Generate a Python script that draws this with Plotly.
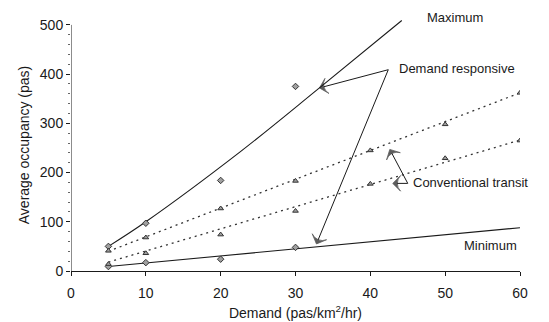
import plotly.graph_objects as go

# --- data ---
demand_dr = [5, 10, 20, 30]
dr_max_pts = [50, 97, 184, 375]
dr_min_pts = [9, 17, 24, 48]

demand_ct = [5, 10, 20, 30, 40, 50, 60]
ct_upper_pts = [41, 68, 127, 183, 245, 298, 362]
ct_lower_pts = [14, 36, 74, 122, 177, 229, 265]

# fitted curves drawn on the chart
max_fit_x = [5, 10, 22.6, 33.2, 44.2]
max_fit_y = [50, 100, 242, 372, 509]
min_fit_x = [5, 60]
min_fit_y = [9, 88]
ct_up_fit_x = [5, 60]
ct_up_fit_y = [40, 362]
ct_lo_fit_x = [5, 60]
ct_lo_fit_y = [18, 266]

# callout arrows: (tail, head)
dr_arrows = [((42.4, 409), (33.2, 372)), ((42.4, 409), (32.8, 55))]
ct_arrows = [((45.0, 178), (42.6, 247)), ((45.0, 178), (43.0, 178))]

x_ticks = [0, 10, 20, 30, 40, 50, 60]
y_ticks = [0, 100, 200, 300, 400, 500]

FONT = "Liberation Sans, Arial, sans-serif"
INK = "#1a1a1a"

fig = go.Figure()

# solid fitted lines (demand responsive)
fig.add_trace(go.Scatter(x=max_fit_x, y=max_fit_y, mode="lines", line_shape="spline",
                         line=dict(color=INK, width=1.1), hoverinfo="skip"))
fig.add_trace(go.Scatter(x=min_fit_x, y=min_fit_y, mode="lines",
                         line=dict(color=INK, width=1.1), hoverinfo="skip"))
# dotted fitted lines (conventional transit)
dots = dict(color="#333", width=1.3, dash="2px,4px")
fig.add_trace(go.Scatter(x=ct_up_fit_x, y=ct_up_fit_y, mode="lines", line=dots, hoverinfo="skip"))
fig.add_trace(go.Scatter(x=ct_lo_fit_x, y=ct_lo_fit_y, mode="lines", line=dots, hoverinfo="skip"))

# markers
diamond = dict(symbol="diamond", size=5, color="#a0a0a0", line=dict(color="#333", width=1))
tri = dict(symbol="triangle-up", size=5, color="#a0a0a0", line=dict(color="#333", width=1))
fig.add_trace(go.Scatter(x=demand_dr, y=dr_max_pts, mode="markers", marker=diamond))
fig.add_trace(go.Scatter(x=demand_dr, y=dr_min_pts, mode="markers", marker=diamond))
fig.add_trace(go.Scatter(x=demand_ct, y=ct_upper_pts, mode="markers", marker=tri))
fig.add_trace(go.Scatter(x=demand_ct, y=ct_lower_pts, mode="markers", marker=tri))

# callout arrows as line traces with an arrow marker at the head
for tail, head in dr_arrows + ct_arrows:
    fig.add_trace(go.Scatter(
        x=[tail[0], head[0]], y=[tail[1], head[1]], mode="lines+markers",
        line=dict(color=INK, width=1), hoverinfo="skip", cliponaxis=False,
        marker=dict(symbol="arrow-wide", size=[0, 11], angleref="previous",
                    color=INK, line=dict(color=INK, width=0.8), standoff=0)))

# y axis line only up to 500
fig.add_shape(type="line", xref="x", yref="y", x0=0, x1=0, y0=0, y1=500,
              line=dict(color=INK, width=1))

txt = dict(family=FONT, size=13, color=INK)
ann = [
    dict(x=43.5, y=411, xref="x", yref="y", text="Demand responsive", showarrow=False,
         xanchor="left", yanchor="middle", font=txt),
    dict(x=45.4, y=180, xref="x", yref="y", text="Conventional transit", showarrow=False,
         xanchor="left", yanchor="middle", font=txt),
    dict(x=47.3, y=1.007, xref="x", yref="paper", text="Maximum", showarrow=False,
         xanchor="left", yanchor="middle", font=txt),
    dict(x=52.3, y=52, xref="x", yref="y", text="Minimum", showarrow=False,
         xanchor="left", yanchor="middle", font=txt),
]

fig.update_layout(
    width=549, height=322,
    margin=dict(l=71, r=29, t=19, b=51),
    paper_bgcolor="white", plot_bgcolor="white",
    showlegend=False,
    annotations=ann,
    font=dict(family=FONT, size=13, color=INK),
    xaxis=dict(range=[0, 60], tickvals=x_ticks, showgrid=False, zeroline=False,
               automargin=False,
               showline=True, linecolor=INK, linewidth=1,
               ticks="outside", ticklen=4, tickcolor=INK, ticklabelstandoff=5,
               tickfont=dict(family=FONT, size=14, color=INK),
               title=dict(text="Demand (pas/km<sup>2</sup>/hr)", standoff=8,
                          font=dict(family=FONT, size=14, color=INK))),
    yaxis=dict(range=[0, 512], tickvals=y_ticks, showgrid=False, zeroline=False,
               automargin=False,
               showline=False, ticks="outside", ticklen=4, tickcolor=INK,
               tickfont=dict(family=FONT, size=14, color=INK),
               minor=dict(dtick=20, ticks="outside", ticklen=2, tickcolor="#666"),
               title=dict(text="Average occupancy (pas)", standoff=6,
                          font=dict(family=FONT, size=14, color=INK))),
)

fig.write_html("out.html")
